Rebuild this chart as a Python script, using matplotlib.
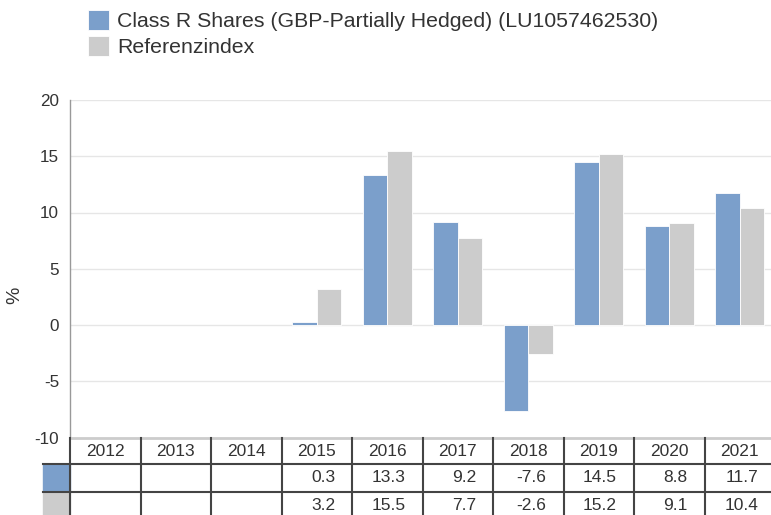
import matplotlib
matplotlib.use("Agg")
import matplotlib.pyplot as plt
import numpy as np

plt.rcParams['font.family'] = ['Liberation Sans', 'DejaVu Sans']

years = ["2012", "2013", "2014", "2015", "2016", "2017", "2018", "2019", "2020", "2021"]
fund = [np.nan, np.nan, np.nan, 0.3, 13.3, 9.2, -7.6, 14.5, 8.8, 11.7]
index = [np.nan, np.nan, np.nan, 3.2, 15.5, 7.7, -2.6, 15.2, 9.1, 10.4]
fund_label = "Class R Shares (GBP-Partially Hedged) (LU1057462530)"
index_label = "Referenzindex"
yticks = [-10, -5, 0, 5, 10, 15, 20]

BLUE = "#7b9fcb"
GRAY = "#cccccc"
TXT = "#333333"
LINE = "#444444"

W, H = 771, 515
fig = plt.figure(figsize=(W / 100, H / 100), dpi=100)

left_px, right_px, top_px, bot_px = 70, 775, 100, 437.5
ax = fig.add_axes([left_px / W, 1 - bot_px / H, (right_px - left_px) / W, (bot_px - top_px) / H])

x = np.arange(len(years))
bw = 0.35
b1 = ax.bar(x - bw / 2, fund, bw, color=BLUE, edgecolor="white", linewidth=0.6, label=fund_label, zorder=3)
b2 = ax.bar(x + bw / 2, index, bw, color=GRAY, edgecolor="white", linewidth=0.6, label=index_label, zorder=3)

ax.set_xlim(-0.5, len(years) - 0.5)
ax.set_ylim(-10, 20)
ax.set_yticks(yticks)
ax.set_yticklabels([str(v) for v in yticks], fontsize=12.3, color=TXT)
ax.tick_params(axis='y', length=0, pad=8)
ax.set_xticks([])
for yv in yticks[1:]:
    ax.axhline(yv, color="#e6e6e6", linewidth=1, zorder=1)
for s in ["top", "right"]:
    ax.spines[s].set_visible(False)
ax.spines["left"].set_color("#999999")
ax.spines["left"].set_linewidth(1)
ax.spines["bottom"].set_color("#cccccc")
ax.spines["bottom"].set_linewidth(2)
fig.text(15 / W, 1 - 295 / H, "%", rotation=90, ha="center", va="center", fontsize=14, color=TXT)

# table
tab = fig.add_axes([left_px / W, 0, (right_px - left_px) / W, (H - bot_px) / H])
tab.set_xlim(-0.5, len(years) - 0.5)
tab.set_ylim(H, bot_px)
tab.axis("off")
colw = (right_px - left_px) / len(years)
sw_left = -0.5 - (left_px - 43) / colw
rows_y = [438, 464, 492, 520]
tab.add_patch(plt.Rectangle((sw_left, rows_y[1]), -0.5 - sw_left, rows_y[2] - rows_y[1], color=BLUE, clip_on=False, zorder=1))
tab.add_patch(plt.Rectangle((sw_left, rows_y[2]), -0.5 - sw_left, rows_y[3] - rows_y[2], color=GRAY, clip_on=False, zorder=1))
for i in range(len(years) + 1):
    tab.plot([i - 0.5, i - 0.5], [rows_y[0], rows_y[3]], color=LINE, linewidth=1.5, clip_on=False, zorder=2)
for yy in rows_y[1:3]:
    tab.plot([sw_left, len(years) - 0.5], [yy, yy], color=LINE, linewidth=1.5, clip_on=False, zorder=2)
pad = 17 / colw
for i, yr in enumerate(years):
    tab.text(i, (rows_y[0] + rows_y[1]) / 2 + 0.5, yr, ha="center", va="center", fontsize=12.5, color=TXT)
    for r, ser in enumerate([fund, index]):
        v = ser[i]
        if not np.isnan(v):
            tab.text(i + 0.5 - pad, (rows_y[r + 1] + rows_y[r + 2]) / 2, f"{v:.1f}", ha="right", va="center", fontsize=12.5, color=TXT)

fig.legend(handles=[b1, b2], labels=[fund_label, index_label], loc="upper left",
           bbox_to_anchor=(88 / W, 1 - 10 / H), frameon=False, fontsize=15.3,
           handlelength=1.0, handleheight=1.1, handletextpad=0.37, labelspacing=0.2,
           borderpad=0, borderaxespad=0, labelcolor=TXT)

fig.savefig("out.png", dpi=100)
